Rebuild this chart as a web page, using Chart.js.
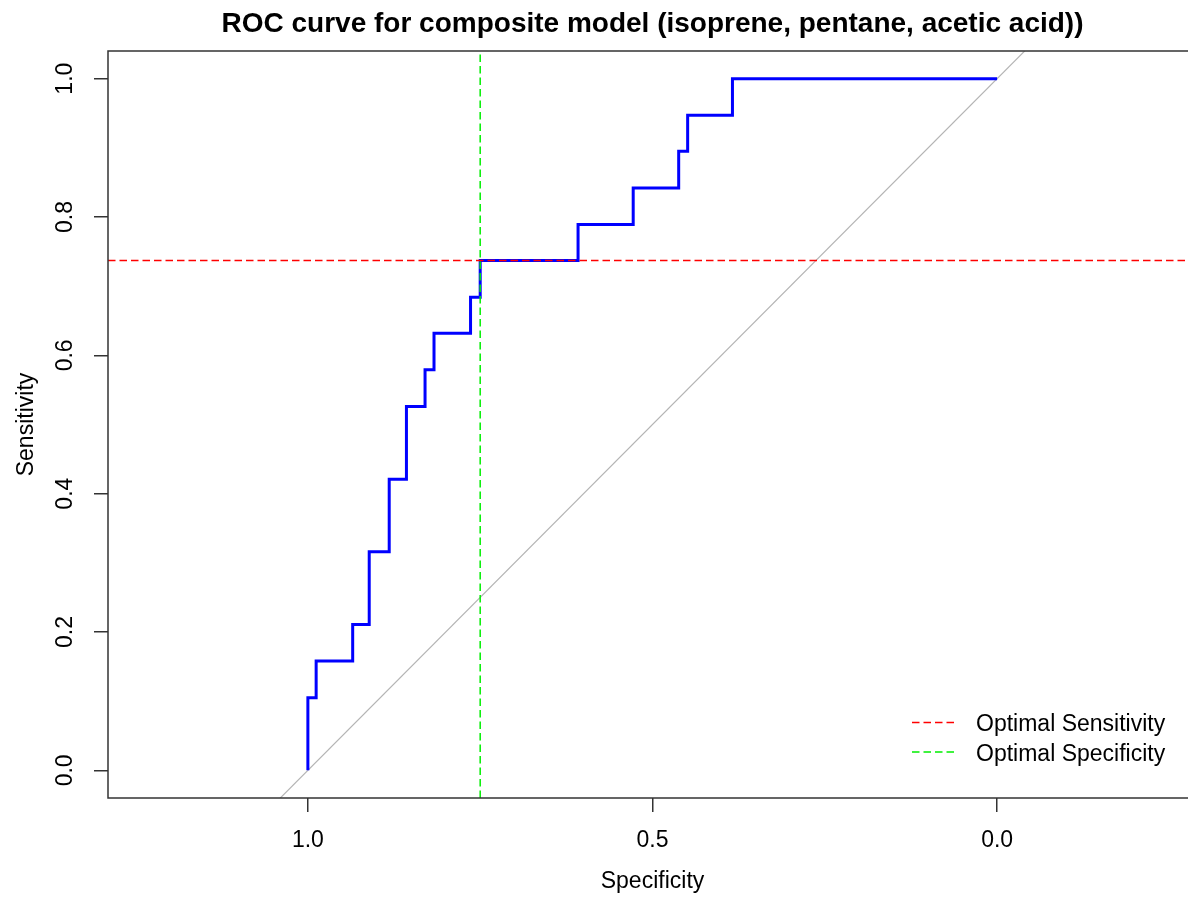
<!DOCTYPE html>
<html><head><meta charset="utf-8">
<script src="https://cdn.jsdelivr.net/npm/chart.js@4"></script>
<style>html,body{margin:0;padding:0;overflow:hidden;background:#fff;} canvas{display:block;}</style>
</head><body>
<canvas id="c" width="1210" height="898"></canvas>
<script>
// ---- data ----
const titleText = 'ROC curve for composite model (isoprene, pentane, acetic acid))';
const xAxisLabel = 'Specificity';
const yAxisLabel = 'Sensitivity';
// corner points of the ROC staircase (specificity, sensitivity)
const specificity = [1.000, 1.000, 0.988, 0.935, 0.911, 0.882, 0.857, 0.830, 0.817, 0.764, 0.750, 0.608, 0.528, 0.462, 0.449, 0.384, 0.000];
const sensitivity = [0.000, 0.105, 0.158, 0.211, 0.316, 0.421, 0.526, 0.579, 0.632, 0.684, 0.737, 0.789, 0.842, 0.895, 0.947, 1.000, 1.000];
const optimalSensitivity = 0.737;
const optimalSpecificity = 0.750;
// chance (identity) line endpoints
const chanceSpec = [1.1, -0.1];
const chanceSens = [-0.1, 1.1];
const xTickValues = [1.0, 0.5, 0.0];
const yTickValues = [0.0, 0.2, 0.4, 0.6, 0.8, 1.0];
const legendLabels = ['Optimal Sensitivity', 'Optimal Specificity'];

// ---- scale ranges ----
const X_MIN = -0.29, X_MAX = 1.29, Y_MIN = -0.04, Y_MAX = 1.04;
const FONT = "'Liberation Sans', Arial, Helvetica, sans-serif";
const AX = '#333333';

const rocData = specificity.map((s, i) => ({x: s, y: sensitivity[i]}));
const chanceData = chanceSpec.map((s, i) => ({x: s, y: chanceSens[i]}));
const redData = [{x: X_MAX, y: optimalSensitivity}, {x: X_MIN, y: optimalSensitivity}];
const greenData = [{x: optimalSpecificity, y: Y_MIN}, {x: optimalSpecificity, y: Y_MAX}];

const boxPlugin = {
  id: 'box',
  afterDatasetsDraw(chart) {
    const {ctx, chartArea: a} = chart;
    ctx.save();
    ctx.strokeStyle = AX; ctx.lineWidth = 1.5;
    ctx.strokeRect(a.left, a.top, a.right - a.left, a.bottom - a.top);
    ctx.restore();
  }
};
const titlePlugin = {
  id: 'rtitle',
  afterDraw(chart) {
    const {ctx, chartArea: a} = chart;
    ctx.save();
    ctx.font = "bold 28px " + FONT;
    ctx.fillStyle = '#000';
    ctx.textAlign = 'center';
    ctx.textBaseline = 'alphabetic';
    ctx.fillText(titleText, (a.left + a.right) / 2, 32);
    ctx.restore();
  }
};
const legendPlugin = {
  id: 'rlegend',
  afterDraw(chart) {
    const {ctx} = chart;
    const items = [chart.data.datasets[1], chart.data.datasets[0]];
    const rowsY = [722.5, 752];
    ctx.save();
    items.forEach((ds, i) => {
      const y = rowsY[i];
      ctx.strokeStyle = ds.borderColor;
      ctx.lineWidth = 1.5;
      ctx.setLineDash([7.5, 4]);
      ctx.beginPath(); ctx.moveTo(912, y); ctx.lineTo(955, y); ctx.stroke();
      ctx.setLineDash([]);
      ctx.fillStyle = '#000';
      ctx.font = "23px " + FONT;
      ctx.textAlign = 'left';
      ctx.textBaseline = 'alphabetic';
      ctx.fillText(ds.label, 976, y + 8.5);
    });
    ctx.restore();
  }
};

const tickFont = {family: FONT, size: 23};
new Chart(document.getElementById('c'), {
  type: 'line',
  data: {
    datasets: [
      {label: legendLabels[1], data: greenData, borderColor: '#00ee00', borderWidth: 1.5, borderDash: [7.5, 4], pointRadius: 0, fill: false, clip: 0},
      {label: legendLabels[0], data: redData, borderColor: '#ff0000', borderWidth: 1.5, borderDash: [7.5, 4], pointRadius: 0, fill: false, clip: 0},
      {label: 'ROC', data: rocData, borderColor: '#0000ff', borderWidth: 3, stepped: 'before', pointRadius: 0, fill: false, clip: 0},
      {label: 'chance', data: chanceData, borderColor: '#b4b4b4', borderWidth: 1.2, pointRadius: 0, fill: false, clip: 0}
    ]
  },
  options: {
    responsive: false,
    animation: false,
    devicePixelRatio: 1,
    events: [],
    layout: {padding: {top: 51, right: 13, left: 0, bottom: 0}},
    plugins: {legend: {display: false}, tooltip: {enabled: false}, title: {display: false}},
    scales: {
      x: {
        type: 'linear', reverse: true, min: X_MIN, max: X_MAX,
        afterBuildTicks: s => { s.ticks = xTickValues.map(v => ({value: v})); },
        afterFit: s => { s.height = 100; },
        grid: {drawOnChartArea: false, drawTicks: true, tickLength: 14, tickColor: AX, color: AX, lineWidth: 1.5},
        border: {display: false},
        ticks: {padding: 15, color: '#000', font: tickFont, maxRotation: 0, autoSkip: false, callback: v => Number(v).toFixed(1)},
        title: {display: true, text: xAxisLabel, color: '#000', font: tickFont, padding: {top: 0, bottom: 3}}
      },
      y: {
        type: 'linear', min: Y_MIN, max: Y_MAX,
        afterBuildTicks: s => { s.ticks = yTickValues.map(v => ({value: v})); },
        afterFit: s => { s.width = 108; },
        grid: {drawOnChartArea: false, drawTicks: true, tickLength: 14, tickColor: AX, color: AX, lineWidth: 1.5},
        border: {display: false},
        ticks: {padding: 12, color: '#000', font: tickFont, minRotation: 90, maxRotation: 90, crossAlign: 'center', autoSkip: false, callback: v => Number(v).toFixed(1)},
        title: {display: true, text: yAxisLabel, color: '#000', font: tickFont, padding: {top: 13, bottom: 0}}
      }
    }
  },
  plugins: [boxPlugin, titlePlugin, legendPlugin]
});
</script>
</body></html>
